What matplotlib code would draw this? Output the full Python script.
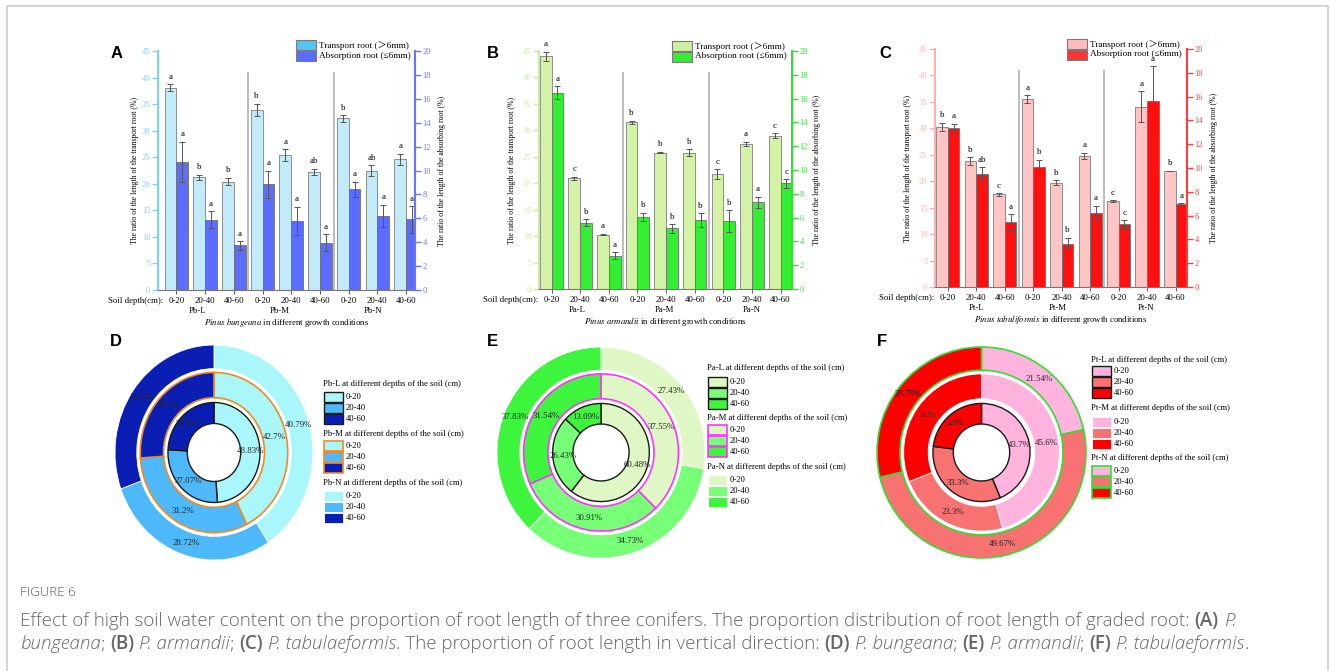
import numpy as np
import matplotlib
matplotlib.use('Agg')
import matplotlib.pyplot as plt
from matplotlib.patches import Rectangle

W, H = 1331, 671
plt.rcParams['font.family'] = 'Liberation Serif'
plt.rcParams['mathtext.fontset'] = 'stix'

depths = ['0-20', '20-40', '40-60']

# ---- panel A : Pinus bungeana
pb_groups = ['Pb-L', 'Pb-M', 'Pb-N']
pb_trans = [38.1, 21.2, 20.4, 33.9, 25.4, 22.2, 32.3, 22.5, 24.6]
pb_trans_err = [0.6, 0.5, 0.7, 1.2, 1.1, 0.6, 0.6, 1.0, 1.1]
pb_abs = [10.7, 5.87, 3.73, 8.84, 5.78, 3.96, 8.44, 6.22, 5.91]
pb_abs_err = [1.7, 0.7, 0.35, 1.13, 1.18, 0.7, 0.62, 0.93, 1.1]
pb_trans_let = ['a', 'b', 'b', 'b', 'a', 'ab', 'b', 'ab', 'a']
pb_abs_let = ['a'] * 9

# ---- panel B : Pinus armandii
pa_groups = ['Pa-L', 'Pa-M', 'Pa-N']
pa_trans = [44.0, 20.9, 10.3, 31.5, 25.8, 25.8, 21.7, 27.4, 29.0]
pa_trans_err = [0.9, 0.3, 0.15, 0.35, 0.15, 0.6, 0.9, 0.4, 0.5]
pa_abs = [16.5, 5.57, 2.8, 6.07, 5.09, 5.76, 5.73, 7.27, 8.87]
pa_abs_err = [0.55, 0.28, 0.3, 0.35, 0.36, 0.59, 0.9, 0.5, 0.36]
pa_trans_let = ['a', 'c', 'a', 'b', 'b', 'b', 'c', 'a', 'c']
pa_abs_let = ['a', 'b', 'a', 'b', 'b', 'b', 'b', 'a', 'c']

# ---- panel C : Pinus tabuliformis
pt_groups = ['Pt-L', 'Pt-M', 'Pt-N']
pt_trans = [30.3, 23.8, 17.5, 35.5, 19.7, 24.8, 16.2, 34.1, 21.9]
pt_trans_err = [0.8, 0.75, 0.2, 0.75, 0.45, 0.6, 0.2, 2.9, 0.05]
pt_abs = [13.34, 9.47, 5.48, 10.06, 3.65, 6.18, 5.28, 15.65, 6.94]
pt_abs_err = [0.37, 0.6, 0.65, 0.63, 0.48, 0.65, 0.31, 2.9, 0.08]
pt_trans_let = ['b', 'b', 'c', 'a', 'b', 'a', 'c', 'a', 'b']
pt_abs_let = ['a', 'ab', 'a', 'b', 'b', 'a', 'c', 'a', 'a']

# ---- donuts (inner = L, middle = M, outer = N), order 0-20, 20-40, 40-60
pb_L = [48.83, 27.07, 24.11]
pb_M = [42.7, 31.2, 26.1]
pb_N = [40.79, 28.72, 30.5]
pa_L = [60.48, 26.43, 13.09]
pa_M = [37.55, 30.91, 31.54]
pa_N = [27.43, 34.73, 37.83]
pt_L = [43.7, 33.3, 23]
pt_M = [45.6, 23.3, 31]
pt_N = [21.54, 49.67, 28.79]

fig = plt.figure(figsize=(W / 100, H / 100), dpi=100)


def box(x0, y0, x1, y1):
    return [x0 / W, 1 - y1 / H, (x1 - x0) / W, (y1 - y0) / H]


ov = fig.add_axes([0, 0, 1, 1], zorder=5)
ov.set_xlim(0, W)
ov.set_ylim(H, 0)
ov.axis('off')

# frame
ov.plot([7, 7, 1328, 1328], [H, 6, 6, H], color='#cccccc', lw=1.2)


def bar_panel(bx, xlim, trans, terr, absb, aerr, tlet, alet, groups, species,
              c_tr, c_ab, c_left, c_right, grp_x, ylx):
    ax = fig.add_axes(box(*bx))
    ax2 = ax.twinx()
    x = np.arange(9)
    w = 0.41
    ekw = dict(ecolor='#555555', elinewidth=0.7, capthick=0.7)
    ax.bar(x - w / 2, trans, w, yerr=terr, capsize=2.2, color=c_tr,
           edgecolor='#8c8c8c', linewidth=0.7, error_kw=ekw)
    ax2.bar(x + w / 2, absb, w, yerr=aerr, capsize=2.2, color=c_ab,
            edgecolor='#707070', linewidth=0.6, error_kw=ekw)
    ax.vlines([2.5, 5.5], 0, 41, color='#b0b0b0', lw=1.2)
    for i in range(9):
        ax.annotate(tlet[i], (x[i] - w / 2, trans[i] + terr[i]), xytext=(0, 2.5),
                    textcoords='offset points', ha='center', va='bottom', fontsize=6.5)
        ax2.annotate(alet[i], (x[i] + w / 2, absb[i] + aerr[i]), xytext=(0, 2.5),
                     textcoords='offset points', ha='center', va='bottom', fontsize=6.5)
    ax.set_xlim(*xlim)
    ax.set_ylim(0, 45)
    ax.set_yticks(range(0, 46, 5))
    ax2.set_ylim(0, 20)
    ax2.set_yticks(range(0, 21, 2))
    ax.set_xticks(x)
    ax.set_xticklabels(depths * 3, fontsize=6.3)
    ax.tick_params(axis='x', length=3, width=0.8, color='#666666', pad=2)
    ax.tick_params(axis='y', colors=c_left, labelsize=6, length=4, width=1, pad=1.5)
    ax2.tick_params(axis='y', colors=c_right, labelsize=6, length=4, width=1, pad=1.5)
    for a in (ax, ax2):
        a.spines['top'].set_visible(False)
    ax.spines['right'].set_visible(False)
    ax2.spines['left'].set_visible(False)
    ax2.spines['bottom'].set_visible(False)
    ax.spines['left'].set_color(c_left)
    ax.spines['left'].set_linewidth(1.5)
    ax2.spines['right'].set_color(c_right)
    ax2.spines['right'].set_linewidth(1.5)
    ax.spines['bottom'].set_color('#777777')
    ax.set_ylabel('The ratio of the length of the transport root (%)', fontsize=5.6)
    ax.yaxis.set_label_coords(ylx[0], 0.5)
    ax2.set_ylabel('The ratio of the length of the absorbing root (%)', fontsize=5.6)
    ax2.yaxis.set_label_coords(ylx[1], 0.5)
    ax.annotate('Soil depth(cm):', (0, 0), xycoords=('data', 'axes fraction'),
                xytext=(-9.5, -5), textcoords='offset points', ha='right', va='top',
                fontsize=6.3)
    for gx, g in zip(grp_x, groups):
        ax.annotate(g, (gx, 0), xycoords=('data', 'axes fraction'), xytext=(0, -15.3),
                    textcoords='offset points', ha='center', va='center', fontsize=6.3)
    ax.annotate(r'$\mathit{' + species.replace(' ', r'\ ') + r'}$ in different growth conditions',
                (0.5, 0), xycoords='axes fraction', xytext=(0, -23.2),
                textcoords='offset points', ha='center', va='center', fontsize=6.3)
    return ax


def bar_legend(x, y, cols):
    labs = ['Transport root (\uff1e6mm)', 'Absorption root (\u22646mm)']
    for k, (c, lab) in enumerate(zip(cols, labs)):
        ov.add_patch(Rectangle((x, y + k * 10.5), 20, 10, facecolor=c,
                               edgecolor='#7a7a7a', lw=0.8))
        ov.text(x + 23, y + k * 10.5 + 5, lab, fontsize=6.7, va='center', ha='left',
                family=['Liberation Serif', 'Noto Sans CJK SC', 'DejaVu Sans'])


bar_panel((158, 51, 415, 290), (-0.64, 8.31), pb_trans, pb_trans_err, pb_abs, pb_abs_err,
          pb_trans_let, pb_abs_let, pb_groups, 'Pinus bungeana',
          '#c2eaf9', '#5b6cff', '#7fd0f5', '#6675ff', [0.75, 3.6, 6.85], (-0.074, 1.09))
bar_legend(296, 40, ['#52c4f5', '#5b6cff'])

bar_panel((539, 51, 792, 289), (-0.44, 8.4), pa_trans, pa_trans_err, pa_abs, pa_abs_err,
          pa_trans_let, pa_abs_let, pa_groups, 'Pinus armandii',
          '#d3f2a6', '#33ee33', '#c9ec98', '#33dd33', [0.9, 3.95, 7.0], (-0.09, 1.083))
bar_legend(672, 41, ['#cdf0a0', '#33ee33'])

bar_panel((935, 49, 1187, 287), (-0.45, 8.4), pt_trans, pt_trans_err, pt_abs, pt_abs_err,
          pt_trans_let, pt_abs_let, pt_groups, 'Pinus tabuliformis',
          '#ffc4c4', '#ff1010', '#ffb0b0', '#ff3b3b', [1.0, 3.85, 6.95], (-0.091, 1.09))
bar_legend(1067, 39, ['#ffbcbc', '#ff3333'])


def donut(bx, vals3, cols, edges):
    ax = fig.add_axes(box(*bx))
    rings = [(0.465, 0.195), (0.745, 0.235), (1.0, 0.22)]
    for vals, (r, wd), (ec, lw) in zip(vals3, rings, edges):
        ax.pie(vals, radius=r, colors=cols, startangle=90, counterclock=False,
               wedgeprops=dict(width=wd, edgecolor=ec, linewidth=lw))
        tot = float(sum(vals))
        cum = 0.0
        for v in vals:
            th = np.deg2rad(90 - 360 * (cum + v / 2) / tot)
            rm = r - wd / 2
            ax.text(rm * np.cos(th), rm * np.sin(th), f'{v:g}%', ha='center', va='center',
                    fontsize=6.4, color='#222222')
            cum += v
    ax.set_aspect('auto')
    ax.set_xlim(-1, 1)
    ax.set_ylim(-1, 1)
    ax.axis('off')


def donut_legend(x, tys, pys, names, cols, edges):
    for ty, py, nm, (ec, lw) in zip(tys, pys, names, edges):
        ov.text(x, ty, nm + ' at different depths of the soil (cm)', fontsize=6.2,
                va='center', ha='left')
        for k, (c, d) in enumerate(zip(cols, depths)):
            ov.add_patch(Rectangle((x + 1, py + k * 11), 19, 10, facecolor=c,
                                   edgecolor=ec, lw=lw))
            ov.text(x + 23, py + k * 11 + 5, d, fontsize=6.2, va='center', ha='left')


pb_cols = ['#aaf7fb', '#4db9fb', '#0a1eb4']
pb_edges = [('#1a1a1a', 1.0), ('#f08a24', 1.2), ('white', 0.6)]
donut((115, 345, 313, 560), [pb_L, pb_M, pb_N], pb_cols, pb_edges)
donut_legend(323, [384, 434, 483], [392, 441, 491], pb_groups, pb_cols, pb_edges)

pa_cols = ['#def7c4', '#77ff77', '#3ef53e']
pa_edges = [('#1a1a1a', 1.0), ('#ff33ff', 1.2), ('white', 0.6)]
donut((497, 347, 705, 558), [pa_L, pa_M, pa_N], pa_cols, pa_edges)
donut_legend(707, [368, 418, 467], [377, 425, 475], pa_groups, pa_cols, pa_edges)

pt_cols = ['#ffb3dd', '#f87272', '#ff0000']
pt_edges = [('#1a1a1a', 1.0), ('white', 0.6), ('#33dd33', 1.2)]
donut((877, 347, 1086, 558), [pt_L, pt_M, pt_N], pt_cols, pt_edges)
donut_legend(1091, [360, 408, 458], [366, 417, 466], pt_groups, pt_cols, pt_edges)

# panel letters
for lx, ly, lt in [(111, 53, 'A'), (487, 53, 'B'), (879, 53, 'C'),
                   (110, 341, 'D'), (487, 341, 'E'), (877, 341, 'F')]:
    ov.text(lx, ly, lt, fontsize=12, fontweight='bold', family='Liberation Sans',
            ha='left', va='center')

# caption
cap_font = 'Open Sans'
ov.text(20, 593, 'FIGURE 6', fontsize=9.5, family=cap_font, fontweight='light',
        color='#555555', va='center', ha='left')

rend = fig.canvas.get_renderer()
styles = {'n': dict(fontweight='light'),
          'b': dict(fontweight='semibold'),
          'i': dict(fontweight='light', fontstyle='italic')}


def seg_w(s, fs, st):
    kw = dict(fontsize=fs, family=cap_font, **styles[st])
    t1 = ov.text(0, 0, '|' + s + '|', **kw)
    t0 = ov.text(0, 0, '||', **kw)
    w = t1.get_window_extent(rend).width - t0.get_window_extent(rend).width
    t1.remove()
    t0.remove()
    return w


line1 = [('Effect of high soil water content on the proportion of root length of three '
          'conifers. The proportion distribution of root length of graded root: ', 'n'),
         ('(A)', 'b'), (' ', 'n'), ('P.', 'i')]
line2 = [('bungeana', 'i'), ('; ', 'n'), ('(B)', 'b'), (' ', 'n'), ('P. armandii', 'i'),
         ('; ', 'n'), ('(C)', 'b'), (' ', 'n'), ('P. tabulaeformis', 'i'),
         ('. The proportion of root length in vertical direction: ', 'n'), ('(D)', 'b'),
         (' ', 'n'), ('P. bungeana', 'i'), ('; ', 'n'), ('(E)', 'b'), (' ', 'n'),
         ('P. armandii', 'i'), ('; ', 'n'), ('(F)', 'b'), (' ', 'n'),
         ('P. tabulaeformis', 'i'), ('.', 'n')]

w_ref = sum(seg_w(s, 10, st) for s, st in line1)
fs_cap = 10 * 1212 / w_ref

for line, yy in [(line1, 621), (line2, 644)]:
    xx = 20
    for s, st in line:
        ov.text(xx, yy, s, fontsize=fs_cap, family=cap_font, color='#666666',
                va='center', ha='left', **styles[st])
        xx += seg_w(s, fs_cap, st)

fig.savefig('out.png', dpi=100)
